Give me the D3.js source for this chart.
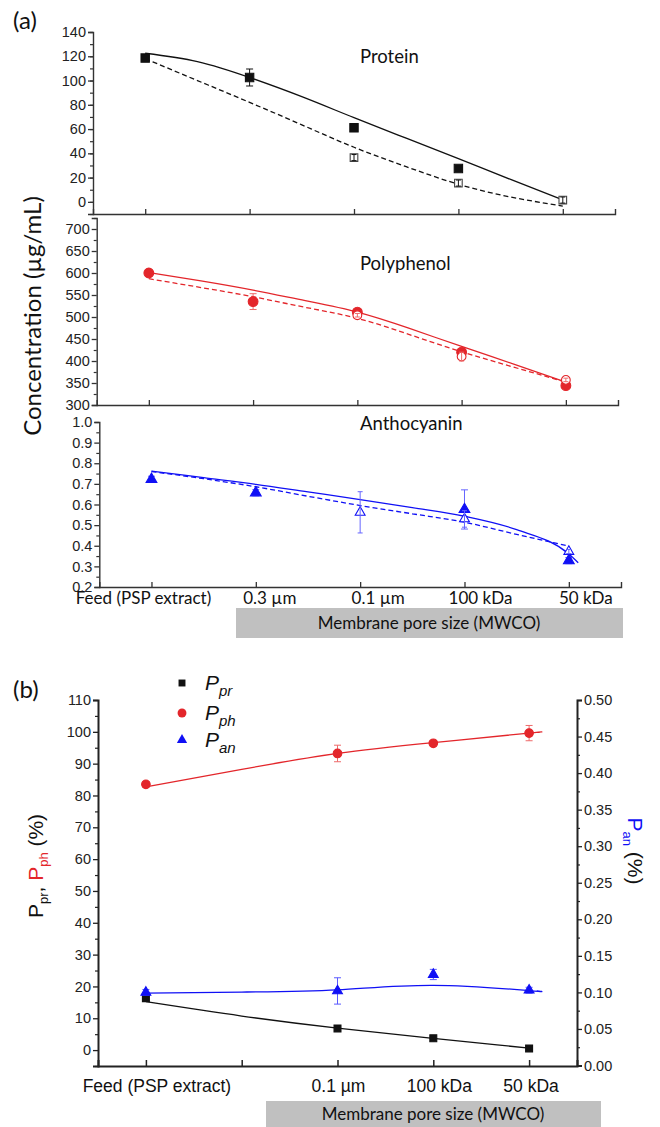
<!DOCTYPE html>
<html>
<head>
<meta charset="utf-8">
<script src="https://cdn.jsdelivr.net/npm/d3@7"></script>
<style>
  body { margin: 0; background: #fff; }
  svg { display: block; }
  .tick text { font-family: "Liberation Sans", Arial, sans-serif; fill: #222; }
</style>
</head>
<body>
<script>
// ---- data (panel a) ----
const catsA = ["Feed (PSP extract)", "0.3 \u00b5m", "0.1 \u00b5m", "100 kDa", "50 kDa"];
const fitT = [0, 0.5, 1, 1.5, 2, 2.5, 3, 3.5, 4];

const proteinFilled = [118.5, 102.5, 61, 27.5, null];
const proteinFilledErr = [1.5, 7, 1.5, 1.5, 0];
const proteinOpen = [null, null, 36.5, 15.5, 1.5];
const proteinOpenErr = [0, 0, 2.5, 2.5, 2.5];
const proteinFitSolid = [122.5, 115.6, 102.5, 86.7, 69.4, 52.5, 35.6, 18.5, 1.6];
const proteinFitDashed = [118, 100, 82, 63.5, 45, 29, 14.5, 4, -3.5];

const polyFilled = [600, 535, 511, 420, 344];
const polyFilledErr = [4, 18, 4, 5, 5];
const polyOpen = [null, null, 504, 410, 357];
const polyOpenErr = [0, 0, 4, 10, 4];
const polyFitSolid = [601, 582, 561, 537, 511, 474, 433, 393, 352];
const polyFitDashed = [587, 567, 546, 522, 497, 460, 421, 386, 352];

const anthoT = [0, 0.5, 1, 1.5, 2, 2.5, 3, 3.5, 4, 4.09];
const anthoFilled = [0.722, 0.657, null, 0.576, 0.328];
const anthoFilledErr = [0.015, 0.015, 0, 0.095, 0.015];
const anthoOpen = [null, null, 0.562, 0.53, 0.372];
const anthoOpenErr = [0, 0, 0.1, 0.04, 0.01];
const anthoFitSolid = [0.762, 0.73, 0.698, 0.661, 0.624, 0.585, 0.543, 0.478, 0.36, 0.318];
const anthoFitDashed = [0.76, 0.725, 0.686, 0.64, 0.595, 0.555, 0.514, 0.455, 0.398, null];

// ---- data (panel b) ----
const catsB = ["Feed (PSP extract)", "", "0.1 \u00b5m", "100 kDa", "50 kDa"];
const ppr = [16.3, null, 6.8, 3.7, 0.5];
const pprErr = [0.8, 0, 0.6, 0.6, 0.5];
const pph = [83.5, null, 93.2, 96.4, 99.6];
const pphErr = [0.8, 0, 2.6, 0.5, 2.4];
const pan = [0.1, null, 0.102, 0.1245, 0.103];
const panErr = [0.004, 0, 0.018, 0.007, 0.004];
const fitTB = [0, 1, 2, 3, 4, 4.08];
const pprFit = [15.2, 10.7, 6.9, 3.7, 0.6, null];
const pphFit = [82.7, 88.2, 93.2, 96.6, 99.6, 99.8];
const panFit = [0.099, 0.1005, 0.1035, 0.1096, 0.1025, 0.102];

// label nudges (the original labels are not centred on their ticks)
const labelShiftA = [-8, 14, 18, 16, 17];
const labelShiftB = [11, 0, 1, 6, 2];

const RED = "#e3262b", BLUE = "#1010f5";
const calib = "Lato, 'Open Sans', sans-serif";
const arial = "'Liberation Sans', Arial, sans-serif";

const svg = d3.select("body").append("svg")
  .attr("width", 660).attr("height", 1127);

function yAxisWithMinor(g, y, major, minor, fmt, side, stroke) {
  const mk = side === "left" ? d3.axisLeft : d3.axisRight;
  g.append("g").call(mk(y).tickValues(minor).tickSize(3).tickFormat(""))
    .call(a => a.select(".domain").remove())
    .selectAll("line").attr("stroke", stroke).attr("stroke-width", 1.2);
  const ax = g.append("g").call(mk(y).tickValues(major).tickSize(5).tickPadding(2).tickFormat(fmt));
  ax.selectAll("line").attr("stroke", stroke).attr("stroke-width", 1.3);
  ax.select(".domain").attr("stroke", stroke).attr("stroke-width", 1.4);
  ax.selectAll("text").attr("font-size", 14.5);
  return ax;
}

function errBars(g, x, y, vals, errs, color, cap) {
  vals.forEach((v, i) => {
    if (v == null || !errs[i]) return;
    const cx = x(i);
    g.append("line").attr("x1", cx).attr("x2", cx)
      .attr("y1", y(v - errs[i])).attr("y2", y(v + errs[i]))
      .attr("stroke", color).attr("stroke-width", 1);
    [v - errs[i], v + errs[i]].forEach(e => {
      g.append("line").attr("x1", cx - cap).attr("x2", cx + cap)
        .attr("y1", y(e)).attr("y2", y(e))
        .attr("stroke", color).attr("stroke-width", 1);
    });
  });
}

function markers(g, x, y, vals, type, size, fill, stroke) {
  const sym = d3.symbol().type(type).size(size);
  g.selectAll(null).data(vals.map((v, i) => [i, v]).filter(d => d[1] != null))
    .join("path")
    .attr("transform", d => `translate(${x(d[0])},${y(d[1])})`)
    .attr("d", sym)
    .attr("fill", fill).attr("stroke", stroke).attr("stroke-width", 1.1);
}

function fitLine(g, x, y, t, vals, color, dash, curve) {
  const line = d3.line().defined(d => d[1] != null)
    .curve(curve || d3.curveNatural).x(d => x(d[0])).y(d => y(d[1]));
  g.append("path").datum(t.map((tt, i) => [tt, vals[i]]))
    .attr("fill", "none").attr("stroke", color).attr("stroke-width", 1.3)
    .attr("stroke-dasharray", dash ? "5,3" : null)
    .attr("d", line);
}

// ---- panel (a) ----
const panels = [
  { x0: 93, x1: 615, yTop: 32, yBot: 214, dom: [-10, 140], major: d3.range(0, 141, 20), minor: d3.range(-10, 141, 10),
    fmt: d3.format("d"), title: "Protein", ty: 63, color: "#111", openColor: "#444",
    sym: d3.symbolSquare, fsize: 70, osize: 58, t: fitT, curve: d3.curveNatural,
    filled: proteinFilled, fErr: proteinFilledErr, open: proteinOpen, oErr: proteinOpenErr,
    solid: proteinFitSolid, dashed: proteinFitDashed, errColor: "#111" },
  { x0: 96.7, x1: 618, yTop: 218, yBot: 405, dom: [300, 725], major: d3.range(300, 701, 50), minor: d3.range(325, 726, 50),
    fmt: d3.format("d"), title: "Polyphenol", ty: 270, color: RED, openColor: RED,
    sym: d3.symbolCircle, fsize: 75, osize: 60, t: fitT, curve: d3.curveNatural,
    filled: polyFilled, fErr: polyFilledErr, open: polyOpen, oErr: polyOpenErr,
    solid: polyFitSolid, dashed: polyFitDashed, errColor: "#ee6a6a" },
  { x0: 99.3, x1: 621, yTop: 422, yBot: 587, dom: [0.2, 1.0], major: d3.range(0.2, 1.01, 0.1), minor: d3.range(0.25, 1.0, 0.1),
    fmt: d3.format(".1f"), title: "Anthocyanin", ty: 430, color: BLUE, openColor: BLUE,
    sym: d3.symbolTriangle, fsize: 50, osize: 42, t: anthoT, curve: d3.curveMonotoneX,
    filled: anthoFilled, fErr: anthoFilledErr, open: anthoOpen, oErr: anthoOpenErr,
    solid: anthoFitSolid, dashed: anthoFitDashed, errColor: "#6666ff" }
];

panels.forEach((p, k) => {
  const g = svg.append("g");
  const x = d3.scaleLinear().domain([-0.5, 4.5]).range([p.x0, p.x1]);
  const y = d3.scaleLinear().domain(p.dom).range([p.yBot, p.yTop]);

  const ya = g.append("g").attr("transform", `translate(${p.x0},0)`);
  yAxisWithMinor(ya, y, p.major, p.minor, p.fmt, "left", "#333");

  const xa = g.append("g").attr("transform", `translate(0,${p.yBot})`)
    .call(d3.axisTop(x).tickValues(d3.range(5)).tickSize(5).tickFormat(""));
  xa.select(".domain").attr("stroke", "#333").attr("stroke-width", 1.4);
  xa.selectAll("line").attr("stroke", "#333").attr("stroke-width", 1.3);

  if (k === 2) {
    g.append("g").selectAll("text").data(catsA).join("text")
      .attr("x", (d, i) => x(i) + labelShiftA[i]).attr("y", p.yBot + 17)
      .attr("text-anchor", "middle").attr("font-family", calib).attr("font-size", 17)
      .attr("fill", "#111").text(d => d);
  }

  g.append("text").attr("x", 360).attr("y", p.ty)
    .attr("font-family", calib).attr("font-size", 18.5).attr("fill", "#111").text(p.title);

  fitLine(g, x, y, p.t, p.solid, p.color, false, p.curve);
  fitLine(g, x, y, p.t, p.dashed, p.color, true, p.curve);

  errBars(g, x, y, p.filled, p.fErr, p.errColor, 3.5);
  markers(g, x, y, p.filled, p.sym, p.fsize, p.color, p.color);
  markers(g, x, y, p.open, p.sym, p.osize, "#fff", p.openColor);
  errBars(g, x, y, p.open, p.oErr, p.errColor, 2.5);
});

svg.append("text").attr("x", 13).attr("y", 29)
  .attr("font-family", calib).attr("font-size", 24).attr("fill", "#111").text("(a)");

svg.append("text")
  .attr("transform", "translate(41,316) rotate(-90)")
  .attr("text-anchor", "middle").attr("font-family", calib).attr("font-size", 24)
  .attr("fill", "#111").text("Concentration (\u00b5g/mL)");

svg.append("rect").attr("x", 236).attr("y", 608).attr("width", 387).attr("height", 30)
  .attr("fill", "#c0c0c0");
svg.append("text").attr("x", 429).attr("y", 629).attr("text-anchor", "middle")
  .attr("font-family", calib).attr("font-size", 17).attr("fill", "#111")
  .text("Membrane pore size (MWCO)");

// ---- panel (b) ----
{
  const g = svg.append("g");
  const x0 = 98, x1 = 577, yTop = 700, yBot = 1066;
  const x = d3.scaleLinear().domain([-0.5, 4.5]).range([x0, x1]);
  const yL = d3.scaleLinear().domain([-5, 110]).range([yBot, yTop]);
  const yR = d3.scaleLinear().domain([0, 0.5]).range([1065.5, yTop]);

  const la = g.append("g").attr("transform", `translate(${x0},0)`);
  yAxisWithMinor(la, yL, d3.range(0, 111, 10), d3.range(-5, 110, 10), d3.format("d"), "left", "#222");
  const ra = g.append("g").attr("transform", `translate(${x1},0)`);
  yAxisWithMinor(ra, yR, d3.range(0, 0.501, 0.05), d3.range(0.025, 0.5, 0.05), d3.format(".2f"), "right", "#222");
  g.selectAll(".domain").attr("stroke-width", 2);

  const xa = g.append("g").attr("transform", `translate(0,${yBot})`)
    .call(d3.axisTop(x).tickValues(d3.range(5)).tickSize(6).tickFormat(""));
  xa.select(".domain").attr("stroke", "#222").attr("stroke-width", 2);
  xa.selectAll("line").attr("stroke", "#222").attr("stroke-width", 1.5);

  g.append("g").selectAll("text").data(catsB).join("text")
    .attr("x", (d, i) => x(i) + labelShiftB[i]).attr("y", 1092)
    .attr("text-anchor", "middle").attr("font-family", arial).attr("font-size", 17.5)
    .attr("fill", "#111").text(d => d);

  fitLine(g, x, yL, fitTB, pprFit, "#111", false);
  fitLine(g, x, yL, fitTB, pphFit, RED, false);
  fitLine(g, x, yR, fitTB, panFit, BLUE, false);

  errBars(g, x, yL, ppr, pprErr, "#111", 3);
  markers(g, x, yL, ppr, d3.symbolSquare, 48, "#111", "#111");
  errBars(g, x, yL, pph, pphErr, "#ee6a6a", 3.5);
  markers(g, x, yL, pph, d3.symbolCircle, 58, RED, RED);
  errBars(g, x, yR, pan, panErr, "#5a5aff", 3.5);
  markers(g, x, yR, pan, d3.symbolTriangle, 42, BLUE, BLUE);

  // legend
  const leg = [
    { sym: d3.symbolSquare, size: 48, color: "#111", sub: "pr", y: 683 },
    { sym: d3.symbolCircle, size: 62, color: RED, sub: "ph", y: 713 },
    { sym: d3.symbolTriangle, size: 46, color: BLUE, sub: "an", y: 740 }
  ];
  leg.forEach(l => {
    g.append("path").attr("transform", `translate(182,${l.y})`)
      .attr("d", d3.symbol().type(l.sym).size(l.size)()).attr("fill", l.color);
    const t = g.append("text").attr("x", 205).attr("y", l.y + 7)
      .attr("font-family", arial).attr("font-style", "italic").attr("font-size", 21).attr("fill", "#111");
    t.append("tspan").text("P");
    t.append("tspan").attr("dy", 6).attr("font-size", 15).text(l.sub);
  });

  svg.append("text").attr("x", 13).attr("y", 698)
    .attr("font-family", calib).attr("font-size", 24).attr("fill", "#111").text("(b)");

  const lt = svg.append("text").attr("transform", "translate(43,866) rotate(-90)")
    .attr("text-anchor", "middle").attr("font-family", arial).attr("font-size", 21);
  lt.append("tspan").attr("fill", "#111").text("P");
  lt.append("tspan").attr("fill", "#111").attr("font-size", 13).attr("dy", 5).text("pr");
  lt.append("tspan").attr("fill", "#111").attr("dy", -5).text(", ");
  lt.append("tspan").attr("fill", RED).text("P");
  lt.append("tspan").attr("fill", RED).attr("font-size", 13).attr("dy", 5).text("ph");
  lt.append("tspan").attr("fill", "#111").attr("dy", -5).text(" (%)");

  const rt = svg.append("text").attr("transform", "translate(628,851) rotate(90)")
    .attr("text-anchor", "middle").attr("font-family", arial).attr("font-size", 21);
  rt.append("tspan").attr("fill", BLUE).text("P");
  rt.append("tspan").attr("fill", BLUE).attr("font-size", 13).attr("dy", 5).text("an");
  rt.append("tspan").attr("fill", "#111").attr("dy", -5).text(" (%)");

  svg.append("rect").attr("x", 266).attr("y", 1101).attr("width", 335).attr("height", 26)
    .attr("fill", "#c0c0c0");
  svg.append("text").attr("x", 433).attr("y", 1120).attr("text-anchor", "middle")
    .attr("font-family", calib).attr("font-size", 17).attr("fill", "#111")
    .text("Membrane pore size (MWCO)");
}
</script>
</body>
</html>
